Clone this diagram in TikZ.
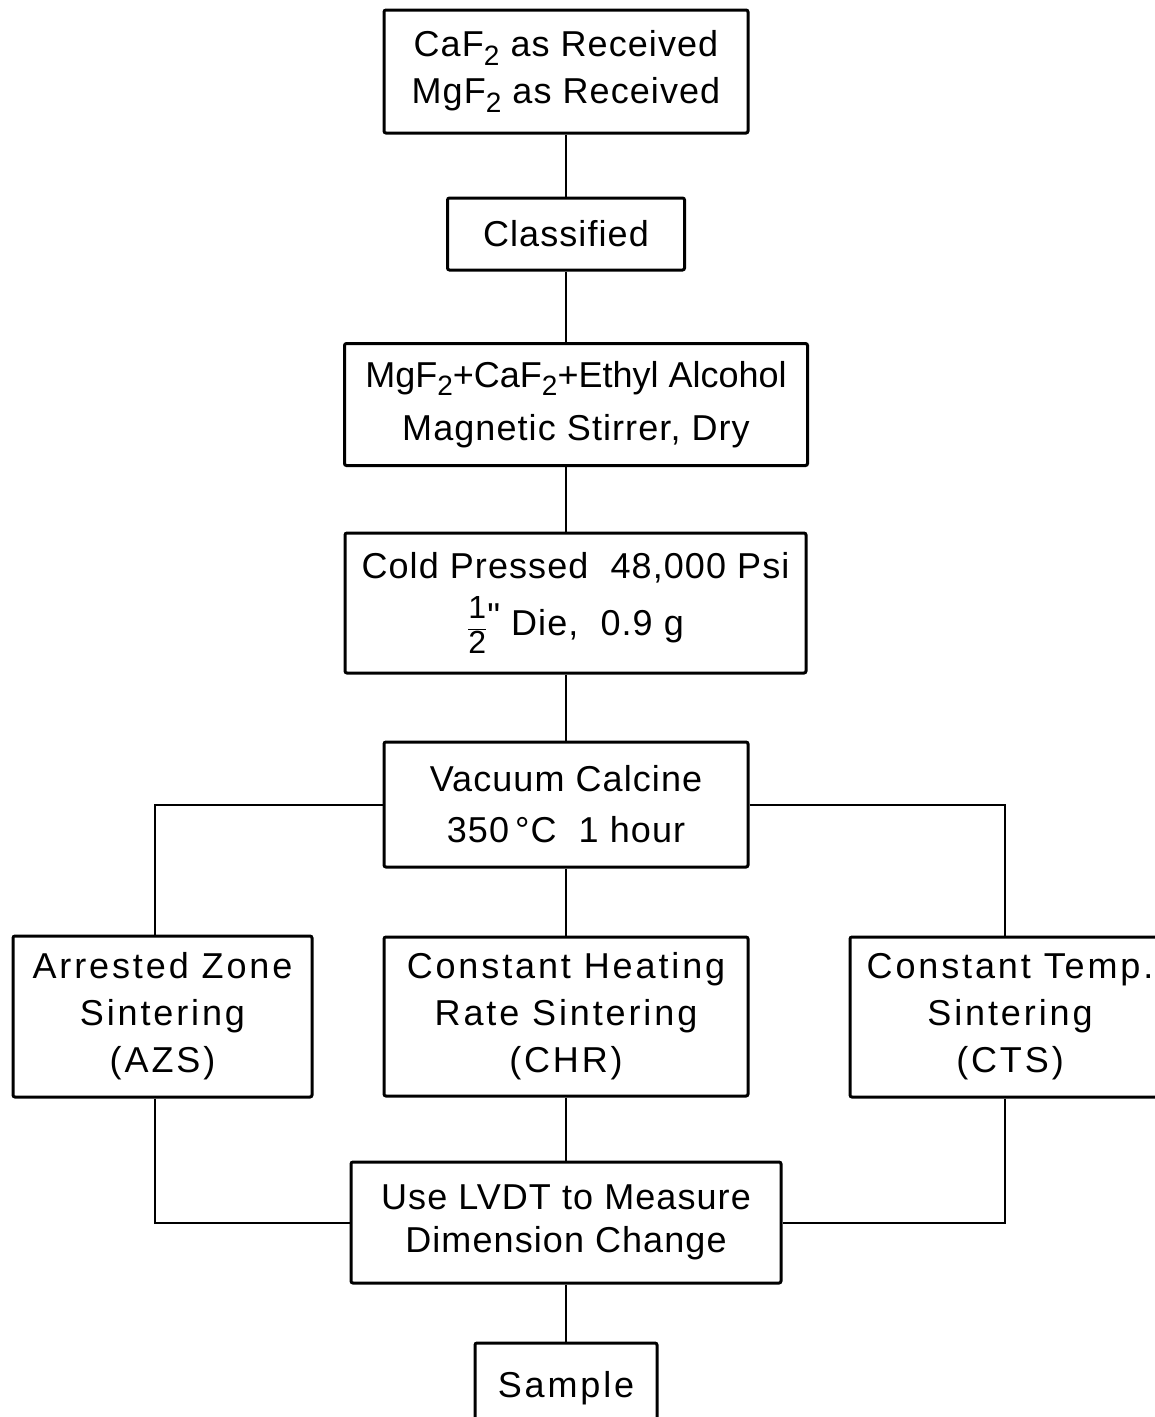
\documentclass[tikz,border=0pt]{standalone}
\usepackage{fontspec}
\setmainfont[LetterSpace=3]{Liberation Sans}
\newcommand{\mysub}[1]{\raisebox{-0.45ex}{\fontsize{28}{28}\selectfont #1}}
\newcommand{\myhalf}{\ensuremath{\displaystyle\frac{\mbox{\fontsize{32}{32}\selectfont 1}}{\mbox{\fontsize{32}{32}\selectfont 2}}}\raisebox{0.4ex}{\addfontfeature{Ligatures=TeXOff}"}}
\newcommand{\wide}[1]{{\addfontfeature{LetterSpace=8}#1}}
\begin{document}
\begin{tikzpicture}[x=1pt,y=-1pt,
  box/.style={draw,line width=3pt,rounded corners=2pt,inner sep=0pt,align=center,
    font=\fontsize{36}{47}\selectfont},
  conn/.style={line width=2pt}]
\path[use as bounding box] (0,0) rectangle (1155,1417);
\clip (0,0) rectangle (1155,1417);
\coordinate (lcol) at (155,0);
\coordinate (rcol) at (1005,0);
% boxes
\node[box,minimum width=364pt,minimum height=123pt] (top) at (566,71.5)
  {CaF\mysub{2} as Received\\MgF\mysub{2} as Received};
\node[box,minimum width=237pt,minimum height=72pt] (cls) at (566,234)
  {Classified};
\node[box,minimum width=463pt,minimum height=122pt] (mix) at (576,404.5)
  {{\addfontfeature{LetterSpace=0}MgF\mysub{2}+CaF\mysub{2}+Ethyl Alcohol}\\[6pt]Magnetic Stirrer, Dry};
\node[box,minimum width=461pt,minimum height=140pt] (press) at (575.5,603)
  {Cold Pressed \ 48,000 Psi\\[10pt]\myhalf\ Die, \ 0.9 g};
\node[box,minimum width=364pt,minimum height=125pt] (vac) at (566,804.5)
  {Vacuum Calcine\\[4pt]350\,°C \ 1 hour};
\node[box,minimum width=299pt,minimum height=161pt] (azs) at (162.5,1016.5)
  {\wide{Arrested Zone}\\\wide{Sintering}\\\wide{(AZS)}};
\node[box,minimum width=364pt,minimum height=159pt] (chr) at (566,1016.5)
  {\wide{Constant Heating}\\\wide{Rate Sintering}\\\wide{(CHR)}};
\node[box,minimum width=320pt,minimum height=160pt] (cts) at (1010,1017)
  {\wide{Constant Temp.}\\\wide{Sintering}\\\wide{(CTS)}};
\node[box,minimum width=430pt,minimum height=121pt] (lvdt) at (566,1222.5)
  {Use LVDT to Measure\\[-4pt]Dimension Change};
\node[box,minimum width=182pt,minimum height=90pt] (sample) at (566,1388)
  {\wide{Sample}};
% connectors
\draw[conn] (top) -- (cls);
\draw[conn] (cls.south) -- (cls.south |- mix.north);
\draw[conn] (cls.south |- mix.south) -- (cls.south |- press.north);
\draw[conn] (cls.south |- press.south) -- (vac.north);
\draw[conn] (vac.west) -| (azs.north -| lcol);
\draw[conn] (vac.east) -| (cts.north -| rcol);
\draw[conn] (vac) -- (chr);
\draw[conn] (azs.south -| lcol) |- (lvdt.west);
\draw[conn] (cts.south -| rcol) |- (lvdt.east);
\draw[conn] (chr) -- (lvdt);
\draw[conn] (lvdt) -- (sample);
\end{tikzpicture}
\end{document}
